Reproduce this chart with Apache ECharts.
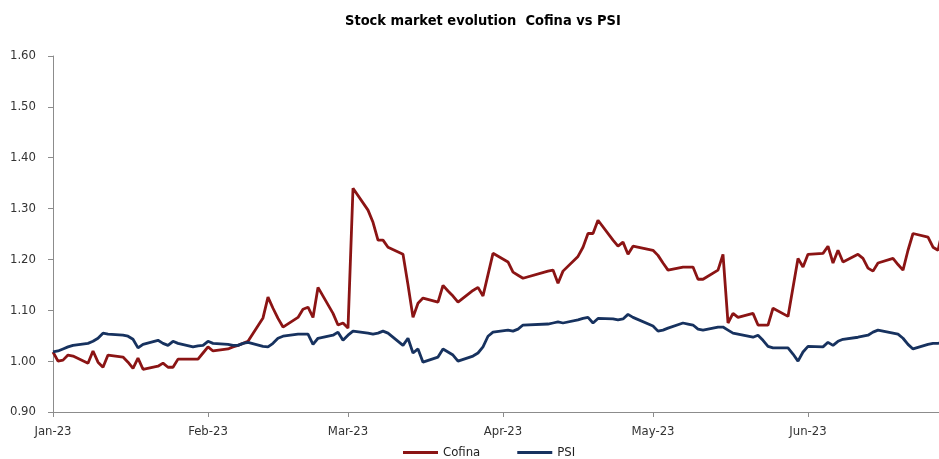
<!DOCTYPE html>
<html>
<head>
<meta charset="utf-8">
<script src="https://cdn.jsdelivr.net/npm/echarts@6/dist/echarts.min.js"></script>
<style>
html,body{margin:0;padding:0;background:#fff;}
#chart{width:939px;height:459px;}
</style>
</head>
<body>
<div id="chart"></div>
<script>
const dates = [
  '2023-01-02','2023-01-03','2023-01-04','2023-01-05','2023-01-06','2023-01-09','2023-01-10','2023-01-11','2023-01-12','2023-01-13','2023-01-16','2023-01-17','2023-01-18','2023-01-19','2023-01-20','2023-01-23','2023-01-24','2023-01-25','2023-01-26','2023-01-27','2023-01-30','2023-01-31',
  '2023-02-01','2023-02-02','2023-02-03','2023-02-06','2023-02-07','2023-02-08','2023-02-09','2023-02-10','2023-02-13','2023-02-14','2023-02-15','2023-02-16','2023-02-17','2023-02-20','2023-02-21','2023-02-22','2023-02-23','2023-02-24','2023-02-27','2023-02-28',
  '2023-03-01','2023-03-02','2023-03-03','2023-03-06','2023-03-07','2023-03-08','2023-03-09','2023-03-10','2023-03-13','2023-03-14','2023-03-15','2023-03-16','2023-03-17','2023-03-20','2023-03-21','2023-03-22','2023-03-23','2023-03-24','2023-03-27','2023-03-28','2023-03-29','2023-03-30','2023-03-31',
  '2023-04-03','2023-04-04','2023-04-05','2023-04-06','2023-04-11','2023-04-12','2023-04-13','2023-04-14','2023-04-17','2023-04-18','2023-04-19','2023-04-20','2023-04-21','2023-04-24','2023-04-25','2023-04-26','2023-04-27','2023-04-28',
  '2023-05-02','2023-05-03','2023-05-04','2023-05-05','2023-05-08','2023-05-09','2023-05-10','2023-05-11','2023-05-12','2023-05-15','2023-05-16','2023-05-17','2023-05-18','2023-05-19','2023-05-22','2023-05-23','2023-05-24','2023-05-25','2023-05-26','2023-05-29','2023-05-30','2023-05-31',
  '2023-06-01','2023-06-02','2023-06-05','2023-06-06','2023-06-07','2023-06-08','2023-06-09','2023-06-12','2023-06-13','2023-06-14','2023-06-15','2023-06-16','2023-06-19','2023-06-20','2023-06-21','2023-06-22','2023-06-23','2023-06-26','2023-06-27','2023-06-28','2023-06-29'
];

const cofina = [
  1.018,1.000,1.002,1.012,1.010, 0.996,1.020,0.998,0.988,1.012, 1.008,0.998,0.986,1.006,0.984, 0.990,0.996,0.988,0.988,1.004, 1.004,1.004,
  1.016,1.028,1.020, 1.024,1.028,1.031,1.035,1.039, 1.085,1.126,1.104,1.084,1.067, 1.086,1.102,1.106,1.086,1.145, 1.094,1.071,
  1.075,1.065,1.340, 1.297,1.273,1.238,1.238,1.224, 1.210,1.150,1.086,1.114,1.124, 1.116,1.149,1.138,1.128,1.116, 1.139,1.145,1.128,1.170,1.212,
  1.195,1.175,1.169,1.163, 1.177,1.179,1.153,1.177, 1.206,1.224,1.251,1.251,1.277, 1.238,1.226,1.234,1.210,1.226,
  1.218,1.208,1.193,1.179, 1.185,1.185,1.185,1.161,1.161, 1.179,1.210,1.075,1.094,1.086, 1.094,1.071,1.071,1.071,1.104, 1.088,1.145,1.202,
  1.185,1.210, 1.212,1.226,1.193,1.218,1.195, 1.210,1.202,1.183,1.177,1.193, 1.202,1.190,1.179,1.218,1.251, 1.244,1.224,1.218,1.260
];

const psi = [
  1.018,1.020,1.024,1.028,1.031, 1.035,1.039,1.045,1.055,1.053, 1.051,1.049,1.043,1.026,1.033, 1.041,1.035,1.031,1.039,1.035, 1.028,1.030,
  1.031,1.039,1.035, 1.033,1.031,1.031,1.035,1.037, 1.029,1.028,1.035,1.045,1.049, 1.053,1.053,1.053,1.033,1.045, 1.051,1.057,
  1.041,1.051,1.059, 1.055,1.053,1.055,1.059,1.055, 1.031,1.045,1.016,1.024,0.998, 1.008,1.024,1.018,1.012,1.000, 1.010,1.016,1.028,1.049,1.057,
  1.061,1.059,1.063,1.071, 1.073,1.075,1.077,1.075, 1.081,1.084,1.086,1.075,1.084, 1.083,1.081,1.083,1.092,1.086,
  1.069,1.059,1.061,1.065, 1.075,1.073,1.071,1.063,1.061, 1.067,1.067,1.061,1.055,1.053, 1.047,1.051,1.041,1.029,1.026, 1.026,1.014,1.000,
  1.018,1.029, 1.028,1.037,1.031,1.039,1.043, 1.047,1.049,1.051,1.057,1.061, 1.055,1.053,1.045,1.033,1.024, 1.033,1.035,1.035,1.037
];

const tickDates = ['2023-01-02','2023-02-02','2023-03-02','2023-04-02','2023-05-02','2023-06-02'];
const tickLabels = ['Jan-23','Feb-23','Mar-23','Apr-23','May-23','Jun-23'];
const seriesNames = ['Cofina','PSI'];
const titleText = 'Stock market evolution  Cofina vs PSI';

const FONT = "'Liberation Sans Narrow','Arial Narrow','DejaVu Sans Condensed','Liberation Sans',Arial,sans-serif";
const DAY = 86400000;
const ts = s => Date.UTC(+s.slice(0,4), +s.slice(5,7) - 1, +s.slice(8,10));
const t0 = ts(dates[0]);
const toDay = s => (ts(s) - t0) / DAY;   // days since first date
const tickDays = tickDates.map(toDay);
const labelMap = {};
tickDays.forEach((d, i) => { labelMap[d] = tickLabels[i]; });

const chart = echarts.init(document.getElementById('chart'), null, {renderer: 'canvas'});
chart.setOption({
  backgroundColor: '#ffffff',
  animation: false,
  title: {
    text: titleText,
    left: 340,
    top: 9,
    textStyle: {fontFamily: FONT, fontSize: 14.5, fontWeight: 'bold', color: '#000'}
  },
  legend: {
    top: 441,
    left: 398,
    itemWidth: 35,
    itemHeight: 3,
    itemGap: 37,
    icon: 'rect',
    textStyle: {fontFamily: FONT, fontSize: 13, color: '#222'},
    data: seriesNames
  },
  grid: {left: 53, right: 0, top: 56, bottom: 47, containLabel: false},
  xAxis: {
    type: 'value',
    min: 0,
    max: toDay('2023-06-28') + 0.2,
    axisLine: {lineStyle: {color: '#8c8c8c', width: 1}},
    axisTick: {show: true, length: 5, lineStyle: {color: '#8c8c8c'}, customValues: tickDays},
    axisLabel: {
      customValues: tickDays,
      fontFamily: FONT, fontSize: 13, color: '#333', margin: 13,
      formatter: v => labelMap[v] || ''
    },
    splitLine: {show: false}
  },
  yAxis: {
    type: 'value',
    min: 0.9, max: 1.6, interval: 0.1,
    axisLine: {show: true, lineStyle: {color: '#8c8c8c', width: 1}},
    axisTick: {show: true, length: 5, lineStyle: {color: '#8c8c8c'}},
    axisLabel: {fontFamily: FONT, fontSize: 13, color: '#333', margin: 17, formatter: v => v.toFixed(2)},
    splitLine: {show: false}
  },
  series: [
    {
      name: seriesNames[0], type: 'line', showSymbol: false, symbol: 'none',
      data: dates.map((d, i) => [toDay(d), cofina[i]]),
      lineStyle: {color: '#8b1414', width: 2.8},
      itemStyle: {color: '#8b1414'}, clip: true
    },
    {
      name: seriesNames[1], type: 'line', showSymbol: false, symbol: 'none',
      data: dates.map((d, i) => [toDay(d), psi[i]]),
      lineStyle: {color: '#17325f', width: 2.8},
      itemStyle: {color: '#17325f'}, clip: true
    }
  ]
});
</script>
</body>
</html>
